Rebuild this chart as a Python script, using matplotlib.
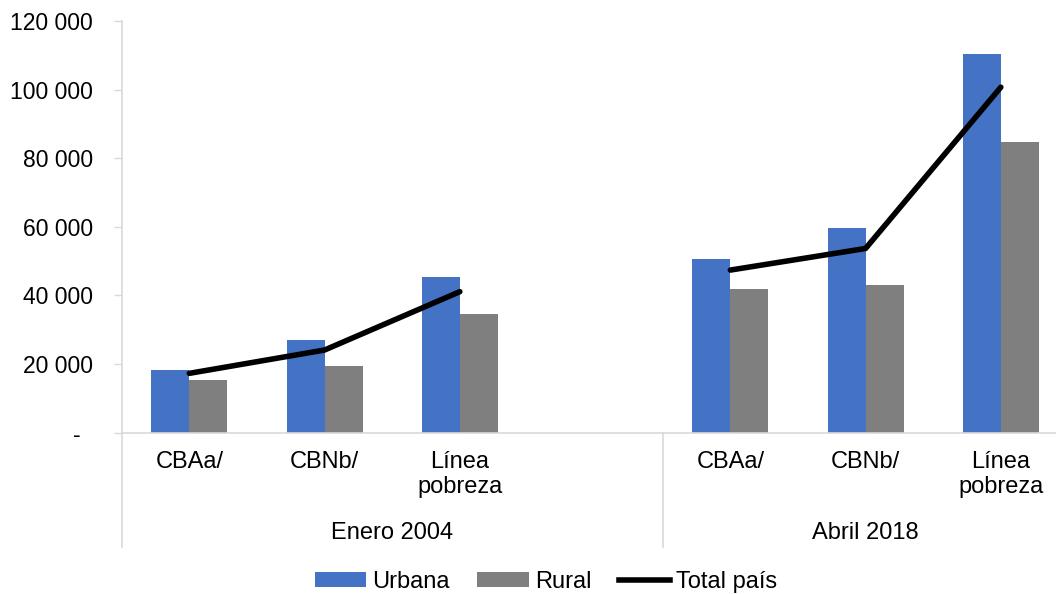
import matplotlib
matplotlib.use("Agg")
import matplotlib.pyplot as plt
from matplotlib.patches import Patch
from matplotlib.lines import Line2D

plt.rcParams['font.family'] = ['Liberation Sans', 'DejaVu Sans']

# Categories per period (slot 3 is left empty between the two periods)
groups = ['Enero 2004', 'Abril 2018']
categories = ['CBAa/', 'CBNb/', 'Línea\npobreza']
positions_2004 = [0, 1, 2]
positions_2018 = [4, 5, 6]

urbana_2004 = [18300, 27000, 45400]
rural_2004 = [15300, 19400, 34500]
total_2004 = [17300, 24100, 41100]

urbana_2018 = [50500, 59800, 110400]
rural_2018 = [41900, 43000, 84800]
total_2018 = [47400, 53700, 100700]

yticks = [0, 20000, 40000, 60000, 80000, 100000, 120000]

blue = '#4472C4'
gray = '#7F7F7F'
axis_gray = '#D9D9D9'
fs = 17

W, H = 1056, 594
fig = plt.figure(figsize=(W / 100, H / 100), dpi=100)

# plot area in pixels: left 121.7, bottom 432.7, top 21, slot width 135.25
left_px, bottom_px, top_px, slot_px = 121.7, 432.7, 21.0, 135.25
ax = fig.add_axes([left_px / W, 1 - bottom_px / H,
                   7 * slot_px / W, (bottom_px - top_px) / H])

bw = 0.281
x_all = positions_2004 + positions_2018
urb = urbana_2004 + urbana_2018
rur = rural_2004 + rural_2018
ax.bar([x - bw / 2 for x in x_all], urb, width=bw, color=blue, zorder=2)
ax.bar([x + bw / 2 for x in x_all], rur, width=bw, color=gray, zorder=2)

for xs, ys in [(positions_2004, total_2004), (positions_2018, total_2018)]:
    ax.plot(xs, ys, color='black', linewidth=4, solid_capstyle='round',
            solid_joinstyle='round', zorder=3)

ax.set_xlim(-0.5, 6.5)
ax.set_ylim(0, 120000)

ax.set_yticks(yticks)
ax.set_yticklabels(['-  '] + [f'{v:,}'.replace(',', ' ') for v in yticks[1:]])
ax.tick_params(axis='y', length=5.5, width=1, color=axis_gray,
               labelsize=16.5, pad=15)
ax.set_xticks([])

for side in ['top', 'right']:
    ax.spines[side].set_visible(False)
for side in ['left', 'bottom']:
    ax.spines[side].set_color(axis_gray)
    ax.spines[side].set_linewidth(1.2)

ah = bottom_px - top_px
trans = ax.get_xaxis_transform()

# category labels under each bar pair
for xs in [positions_2004, positions_2018]:
    for x, lab in zip(xs, categories):
        ax.text(x, -(451 - bottom_px) / ah, lab, transform=trans,
                ha='center', va='top', fontsize=fs, linespacing=1.15)

# period labels and separators
for (a, b), g in zip([(-0.5, 3.5), (3.5, 6.5)], groups):
    ax.text((a + b) / 2, -(533 - bottom_px) / ah, g, transform=trans,
            ha='center', va='center', fontsize=fs)
for xv in [-0.5, 3.5, 6.5]:
    ax.add_line(Line2D([xv, xv], [0, -(546.7 - bottom_px) / ah],
                       transform=trans, color=axis_gray, linewidth=1.2,
                       clip_on=False))

handles = [Patch(facecolor=blue, label='Urbana'),
           Patch(facecolor=gray, label='Rural'),
           Line2D([0], [0], color='black', linewidth=4, label='Total país')]
fig.legend(handles=handles, loc='center', bbox_to_anchor=(546 / W, 1 - 582 / H),
           ncol=3, frameon=False, fontsize=fs, handlelength=2.2,
           handleheight=0.6, handletextpad=0.25, columnspacing=1.15)

fig.savefig('out.png', dpi=100, facecolor='white')
